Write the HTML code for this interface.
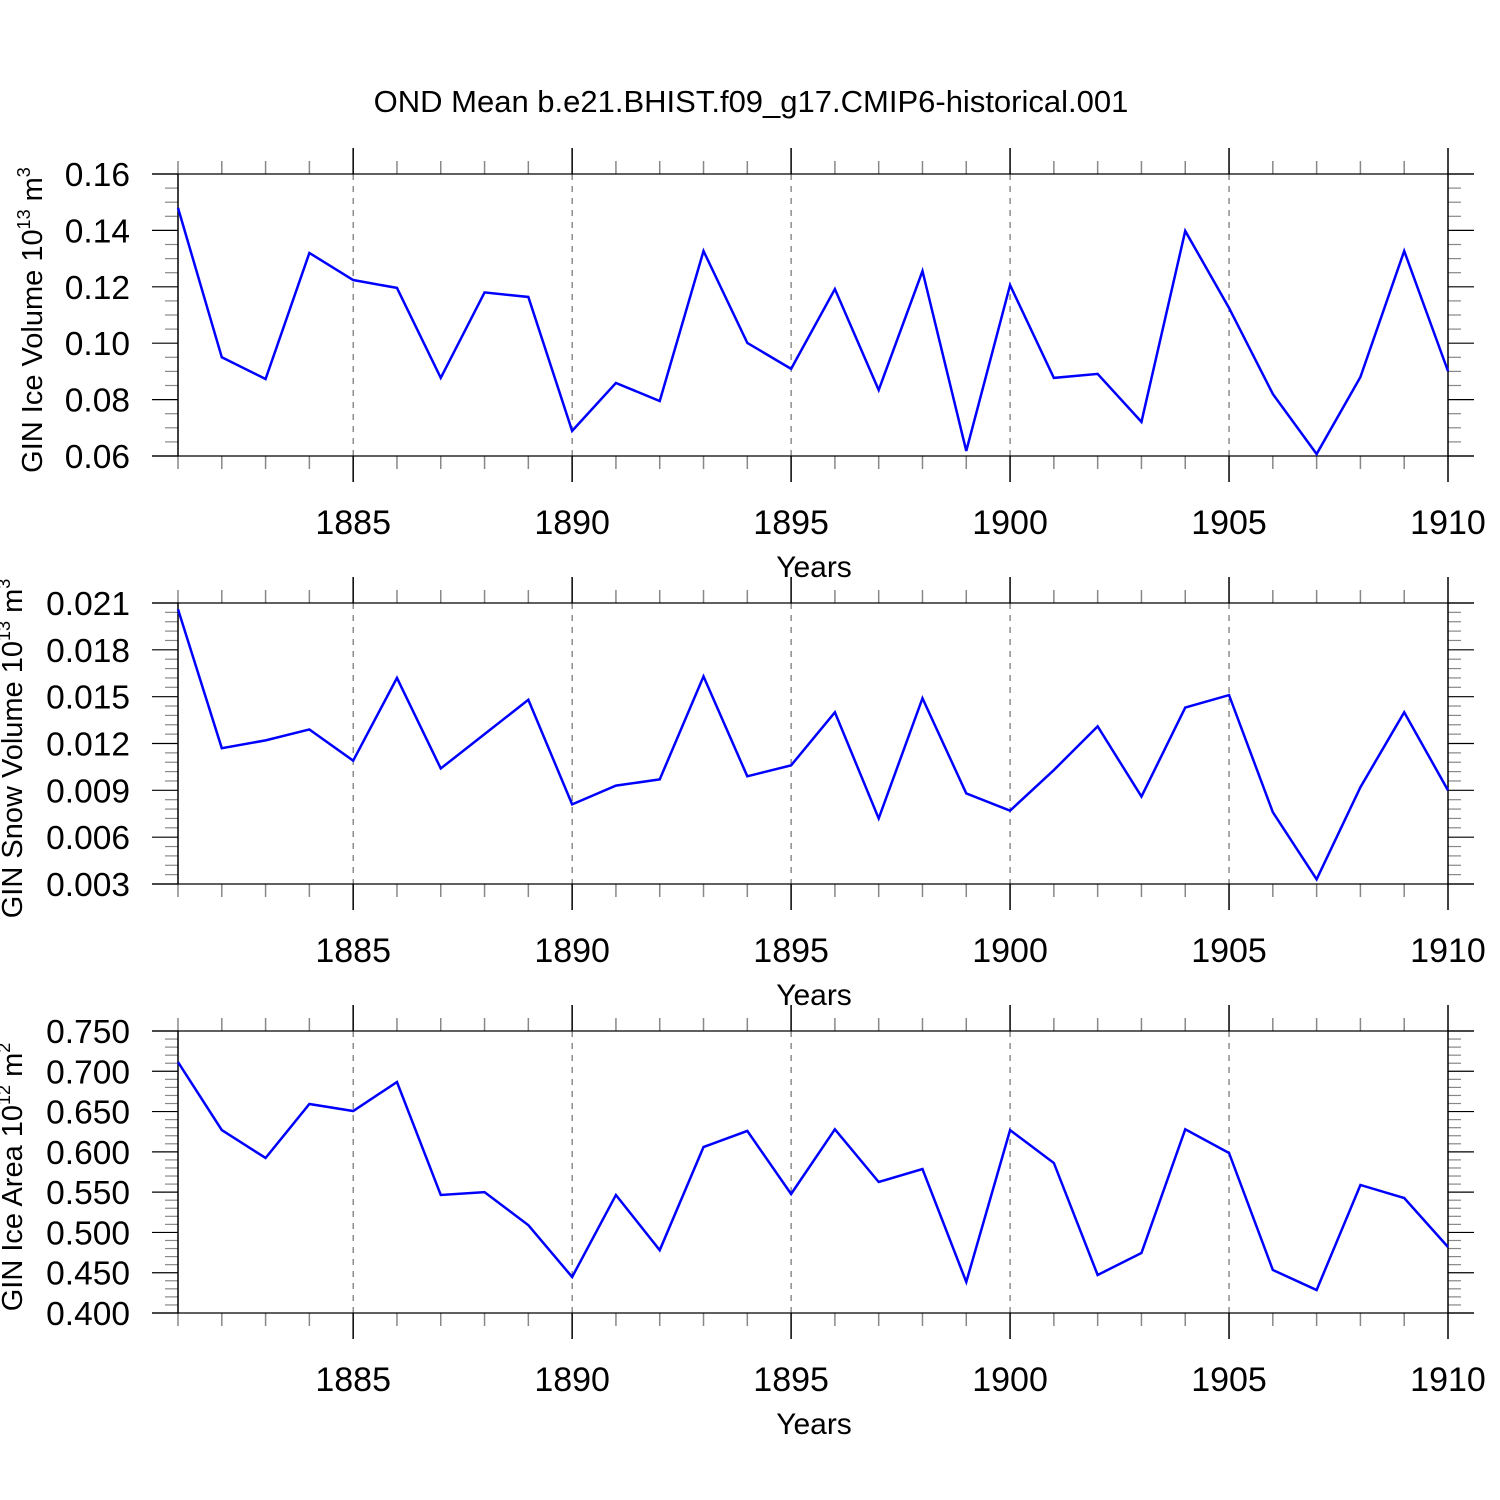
<!DOCTYPE html>
<html><head><meta charset="utf-8"><style>
body{margin:0;background:#fff}
svg{display:block;font-family:"Liberation Sans",Arial,sans-serif}
</style></head><body>
<svg id="chart" width="1500" height="1500" viewBox="0 0 1500 1500" xmlns="http://www.w3.org/2000/svg">
<rect width="1500" height="1500" fill="#fff"/>
<text x="751" y="112" font-size="31" text-anchor="middle">OND Mean b.e21.BHIST.f09_g17.CMIP6-historical.001</text>
</svg>
<script>
const years = [1881,1882,1883,1884,1885,1886,1887,1888,1889,1890,1891,1892,1893,1894,1895,1896,1897,1898,1899,1900,1901,1902,1903,1904,1905,1906,1907,1908,1909,1910];
const iceVolume = [0.148,0.095,0.0873,0.132,0.1224,0.1196,0.0877,0.118,0.1164,0.0689,0.0859,0.0795,0.1327,0.1001,0.0909,0.1192,0.0834,0.1256,0.0618,0.1206,0.0877,0.0891,0.0721,0.1398,0.1125,0.082,0.0607,0.088,0.1327,0.0901];
const snowVolume = [0.0206,0.0117,0.0122,0.0129,0.0109,0.0162,0.0104,0.0126,0.0148,0.0081,0.0093,0.0097,0.0163,0.0099,0.0106,0.014,0.0072,0.0149,0.0088,0.0077,0.0103,0.0131,0.0086,0.0143,0.0151,0.0076,0.0033,0.0092,0.014,0.009];
const iceArea = [0.7115,0.627,0.5924,0.6594,0.6507,0.6867,0.5465,0.55,0.509,0.4447,0.5465,0.478,0.606,0.626,0.5477,0.628,0.5626,0.5787,0.4385,0.627,0.5862,0.4472,0.4745,0.628,0.5986,0.4534,0.4285,0.5589,0.5427,0.4819];
const xTicks = [1885,1890,1895,1900,1905,1910];
const iceVolTicks = ["0.06","0.08","0.10","0.12","0.14","0.16"];
const snowTicks = ["0.003","0.006","0.009","0.012","0.015","0.018","0.021"];
const areaTicks = ["0.400","0.450","0.500","0.550","0.600","0.650","0.700","0.750"];

const NS="http://www.w3.org/2000/svg";
const svg=document.getElementById('chart');
function el(tag,attrs,parent){const e=document.createElementNS(NS,tag);for(const k in attrs)e.setAttribute(k,attrs[k]);(parent||svg).appendChild(e);return e;}
const X0=178,X1=1448,XMIN=1881,XMAX=1910;
function xs(v){return X0+(v-XMIN)/(XMAX-XMIN)*(X1-X0);}

function panel(name,top,bot,ticks,minorN,data,titleMain,titleExp,titleUnit,titleX){
  const g=el('g',{});
  
  
  const ymin=parseFloat(ticks[0]),ymax=parseFloat(ticks[ticks.length-1]);
  const ys=v=>bot-(v-ymin)/(ymax-ymin)*(bot-top);
  for(let y=XMIN;y<=XMAX;y++){
    const x=xs(y);const major=(y%5===0);
    el('line',{x1:x,x2:x,y1:top,y2:top-(major?26:13),stroke:major?'#000':'#888','stroke-width':1.5},g);
    el('line',{x1:x,x2:x,y1:bot,y2:bot+(major?26:13),stroke:major?'#000':'#888','stroke-width':1.5},g);
  }
  xTicks.forEach(t=>{
    const x=xs(t);
    if(t<XMAX) el('line',{x1:x,x2:x,y1:top,y2:bot,stroke:'#555','stroke-width':1,'stroke-dasharray':'6,6'},g);
    const tx=el('text',{x:x,y:bot+78,'font-size':34,'text-anchor':'middle'},g);tx.textContent=t;
    
    
  });
  for(let i=0;i<ticks.length;i++){
    const v=parseFloat(ticks[i]);const y=ys(v);
    el('line',{x1:152,x2:1474,y1:y,y2:y,stroke:'#000','stroke-width':1.2,opacity:(i===0||i===ticks.length-1)?1:0},g);
    el('line',{x1:152,x2:X0,y1:y,y2:y,stroke:'#000','stroke-width':1.2},g);
    el('line',{x1:X1,x2:1474,y1:y,y2:y,stroke:'#000','stroke-width':1.2},g);
    const t=el('text',{x:130,y:y+12,'font-size':33.5,'text-anchor':'end'},g);t.textContent=ticks[i];
    
    
    if(i<ticks.length-1){
      const step=(parseFloat(ticks[i+1])-v)/(minorN+1);
      for(let k=1;k<=minorN;k++){const yy=ys(v+k*step);
        el('line',{x1:165,x2:X0,y1:yy,y2:yy,stroke:'#888','stroke-width':1.2},g);
        el('line',{x1:X1,x2:1461,y1:yy,y2:yy,stroke:'#888','stroke-width':1.2},g);}
    }
  }
  el('line',{x1:X0,x2:X0,y1:top,y2:bot,stroke:'#000','stroke-width':1.5},g);
  el('line',{x1:X1,x2:X1,y1:top,y2:bot,stroke:'#000','stroke-width':1.5},g);
  const pts=data.map((v,i)=>xs(years[i])+','+ys(v)).join(' ');
  const line=el('polyline',{points:pts,fill:'none',stroke:'#0000ff','stroke-width':2.5,'stroke-linejoin':'miter'},g);
  
  
  const xl=el('text',{x:814,y:bot+121,'font-size':30,'text-anchor':'middle'},g);xl.textContent='Years';
  
  
  const cy=(top+bot)/2+5;
  const yt=el('text',{x:0,y:0,'font-size':29,'text-anchor':'middle',transform:`translate(${titleX},${cy}) rotate(-90)`},g);
  
  
  const s1=document.createElementNS(NS,'tspan');s1.textContent=titleMain+' 10';yt.appendChild(s1);
  const s2=document.createElementNS(NS,'tspan');s2.setAttribute('dy','-12');s2.setAttribute('font-size','18');s2.textContent=titleExp;yt.appendChild(s2);
  const s3=document.createElementNS(NS,'tspan');s3.setAttribute('dy','12');s3.textContent=' m';yt.appendChild(s3);
  const s4=document.createElementNS(NS,'tspan');s4.setAttribute('dy','-12');s4.setAttribute('font-size','18');s4.textContent=titleUnit;yt.appendChild(s4);
}
panel('ice-volume',174,456,iceVolTicks,3,iceVolume,'GIN Ice Volume','13','3',42);
panel('snow-volume',603,884,snowTicks,4,snowVolume,'GIN Snow Volume','13','3',22);
panel('ice-area',1031,1313,areaTicks,4,iceArea,'GIN Ice Area','12','2',22);
</script>
</body></html>
